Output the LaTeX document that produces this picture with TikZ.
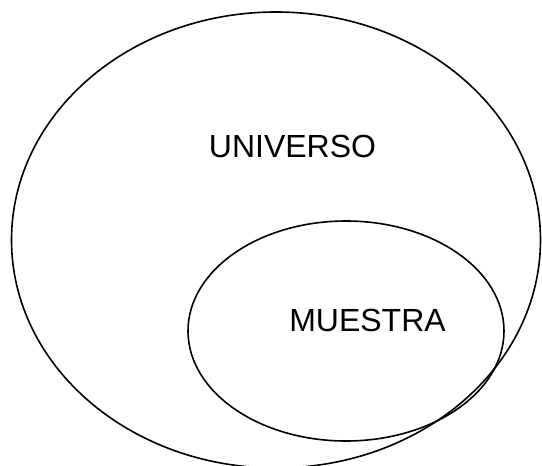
\documentclass[tikz,border=0pt]{standalone}
\usepackage{fontspec}
\setmainfont{Liberation Sans}
\begin{document}
\begin{tikzpicture}[x=1pt,y=-1pt,
  setline/.style={draw=black,line width=1.6pt},
  lbl/.style={font=\fontsize{32}{38}\selectfont,inner sep=0pt,anchor=base}]
\useasboundingbox (0,0) rectangle (542,466);
\clip (0,0) rectangle (542,466);
\fill[white] (0,0) rectangle (542,466);
\draw[setline] (276,240) ellipse [x radius=264.5, y radius=228];
\draw[setline] (346,331) ellipse [x radius=158, y radius=110];
\node[lbl] (univ) at (292.5,157.5) {UNIVERSO};
\node[lbl] (muestra) at (367.5,331.5) {MUESTRA};
\end{tikzpicture}
\end{document}
